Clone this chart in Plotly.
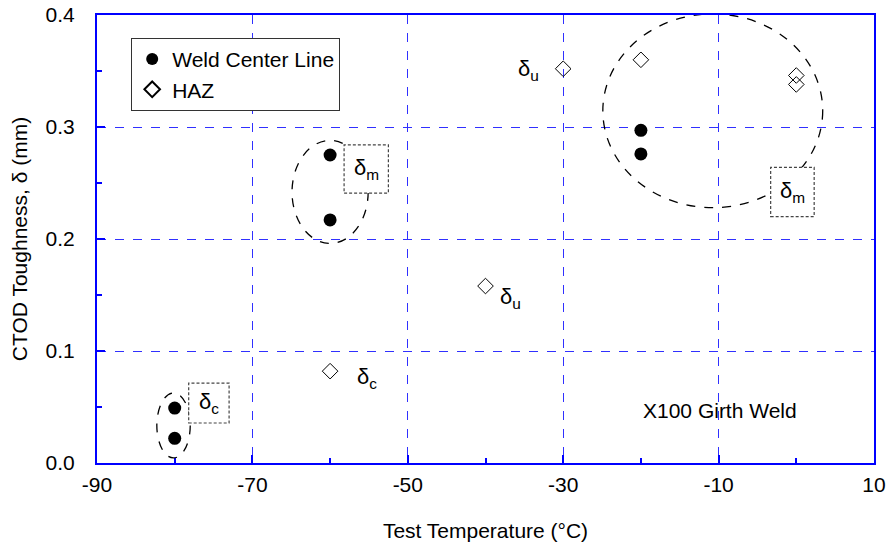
import plotly.graph_objects as go

# Data
weld_x = [-80, -80, -60, -60, -20, -20]
weld_y = [0.049, 0.022, 0.275, 0.217, 0.297, 0.276]
haz_x = [-60, -40, -30, -20, 0, 0]
haz_y = [0.082, 0.158, 0.352, 0.360, 0.346, 0.338]

x_ticks = [-90, -70, -50, -30, -10, 10]
y_ticks = [0.0, 0.1, 0.2, 0.3, 0.4]

# Grouping ellipses (x0, x1, y0, y1) in data units
ellipses = [(-82.3, -78.0, 0.0045, 0.0625),
            (-64.9, -55.1, 0.196, 0.288),
            (-24.9, 3.4, 0.228, 0.401)]
# Boxed labels (x0, x1, y0, y1, text)
boxes = [(-78.2, -73.0, 0.0357, 0.0714, "δ<sub>c</sub>"),
         (-58.2, -52.5, 0.241, 0.284, "δ<sub>m</sub>"),
         (-3.3, 2.3, 0.220, 0.264, "δ<sub>m</sub>")]
# Free labels (x, y, text)
labels = [(-34.5, 0.351, "δ<sub>u</sub>"),
          (-36.8, 0.147, "δ<sub>u</sub>"),
          (-55.3, 0.076, "δ<sub>c</sub>")]

FONT = "Liberation Sans, Arial, sans-serif"
BLUE = "#0000ff"
GRID = "#3030ff"
FS = 21

fig = go.Figure()
fig.add_trace(go.Scatter(x=weld_x, y=weld_y, mode="markers", name="Weld Center Line",
                         marker=dict(symbol="circle", size=13, color="black")))
fig.add_trace(go.Scatter(x=haz_x, y=haz_y, mode="markers", name="HAZ",
                         marker=dict(symbol="diamond-open", size=12, color="black",
                                     line=dict(width=1))))

for x0, x1, y0, y1 in ellipses:
    fig.add_shape(type="circle", xref="x", yref="y", x0=x0, x1=x1, y0=y0, y1=y1,
                  line=dict(color="black", width=1.3, dash="dash"))

for x0, x1, y0, y1, t in boxes:
    fig.add_shape(type="rect", xref="x", yref="y", x0=x0, x1=x1, y0=y0, y1=y1,
                  line=dict(color="#444444", width=1.2, dash="3px,2px"),
                  fillcolor="white", layer="above")
    fig.add_annotation(x=(x0 + x1) / 2, y=(y0 + y1) / 2, text=t, showarrow=False,
                       font=dict(family=FONT, size=22, color="black"))

for x, y, t in labels:
    fig.add_annotation(x=x, y=y, text=t, showarrow=False,
                       font=dict(family=FONT, size=22, color="black"))

fig.add_annotation(x=-9.8, y=0.047, text="X100 Girth Weld", showarrow=False,
                   font=dict(family=FONT, size=FS, color="black"))

fig.update_layout(
    width=890, height=550,
    margin=dict(l=97, r=16, t=15, b=87),
    paper_bgcolor="white", plot_bgcolor="white",
    font=dict(family=FONT, size=FS, color="black"),
    legend=dict(x=0.044, y=0.949, xanchor="left", yanchor="top",
                bgcolor="white", bordercolor="#333333", borderwidth=1,
                font=dict(size=FS), itemsizing="constant", itemwidth=30,
                tracegroupgap=0),
    showlegend=True,
)

fig.update_xaxes(range=[-90, 10], tickvals=x_ticks, ticktext=[str(v) for v in x_ticks],
                 showline=True, linecolor=BLUE, linewidth=2, mirror=True,
                 ticks="inside", ticklen=8, tickcolor=BLUE, tickwidth=1.5,
                 minor=dict(dtick=10, tick0=-90, ticks="inside", ticklen=5,
                            tickcolor=BLUE, showgrid=False),
                 showgrid=True, gridcolor=GRID, griddash="dash", gridwidth=1,
                 zeroline=False, ticklabelstandoff=2, automargin=False,
                 tickfont=dict(size=FS),
                 title=dict(text="Test Temperature (°C)", standoff=28,
                            font=dict(size=FS)))
fig.update_yaxes(range=[0, 0.4], tickvals=y_ticks, tickformat=".1f",
                 showline=True, linecolor=BLUE, linewidth=2, mirror=True,
                 ticks="inside", ticklen=8, tickcolor=BLUE, tickwidth=1.5,
                 minor=dict(dtick=0.05, tick0=0, ticks="inside", ticklen=5,
                            tickcolor=BLUE, showgrid=False),
                 showgrid=True, gridcolor=GRID, griddash="dash", gridwidth=1,
                 zeroline=False, ticklabelstandoff=16, automargin=False,
                 tickfont=dict(size=FS),
                 title=dict(text="CTOD Toughness, δ (mm)", standoff=12,
                            font=dict(size=FS)))

fig.write_html("out.html")
